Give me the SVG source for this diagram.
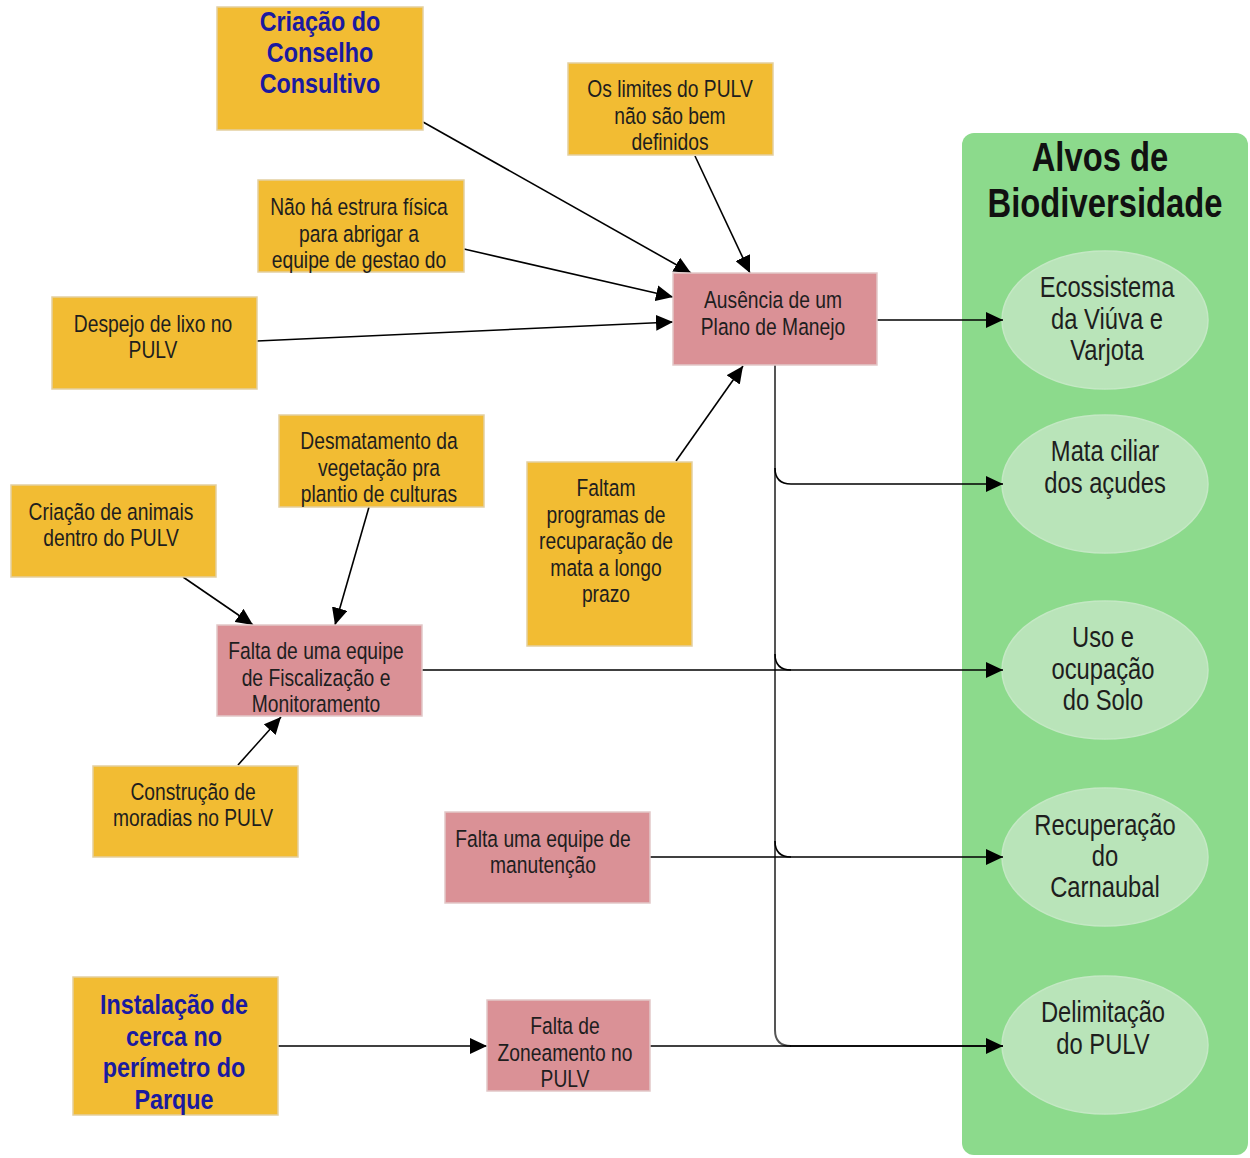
<svg xmlns="http://www.w3.org/2000/svg" width="1250" height="1158" viewBox="0 0 1250 1158">
  <defs>
    <marker id="arrow" markerUnits="userSpaceOnUse" markerWidth="18" markerHeight="16" refX="17" refY="8" orient="auto">
      <path d="M0,0 L17,8 L0,16 Z" fill="#000"/>
    </marker>
    <style>
      .cause { fill: #F2BC33; stroke: #E3CFA0; stroke-width: 1.5; }
      .issue { fill: #DA9196; stroke: #E2C8C8; stroke-width: 1.5; }
      .panel { fill: #8CDA8C; }
      .target { fill: #B9E4B9; stroke: #C4E8C4; stroke-width: 1.5; }
      .t { font-family: "Liberation Sans", Arial, sans-serif; font-size: 23.5px; fill: #1e1e1e; text-anchor: middle; }
      .te { font-family: "Liberation Sans", Arial, sans-serif; font-size: 29px; fill: #1e1e1e; text-anchor: middle; }
      .tb { font-family: "Liberation Sans", Arial, sans-serif; font-size: 28.5px; font-weight: bold; fill: #1A1AA0; text-anchor: middle; }
      .tt { font-family: "Liberation Sans", Arial, sans-serif; font-size: 40px; font-weight: bold; fill: #111; text-anchor: middle; }
      .link { fill: none; stroke: #000; stroke-width: 1.6; }
      .trunk { fill: none; stroke: #555; stroke-width: 2; }
    </style>
  </defs>

  <rect width="1250" height="1158" fill="#fff"/>

  <!-- Biodiversity targets panel -->
  <g id="alvos">
    <rect class="panel" x="962" y="133" width="286" height="1022" rx="12"/>
    <text class="tt" transform="translate(1100 0) scale(0.82 1)" x="0" y="171">Alvos de</text>
    <text class="tt" transform="translate(1105 0) scale(0.82 1)" x="0" y="217">Biodiversidade</text>
  </g>
  <g id="alvo-ecossistema">
    <ellipse class="target" cx="1105" cy="320" rx="103" ry="69"/>
    <text class="te" transform="translate(1107 0) scale(0.82 1)"><tspan x="0" y="297">Ecossistema</tspan><tspan x="0" y="329">da Viúva e</tspan><tspan x="0" y="360">Varjota</tspan></text>
  </g>
  <g id="alvo-mata">
    <ellipse class="target" cx="1105" cy="484" rx="103" ry="69"/>
    <text class="te" transform="translate(1105 0) scale(0.82 1)"><tspan x="0" y="461">Mata ciliar</tspan><tspan x="0" y="493">dos açudes</tspan></text>
  </g>
  <g id="alvo-solo">
    <ellipse class="target" cx="1105" cy="670" rx="103" ry="69"/>
    <text class="te" transform="translate(1103 0) scale(0.82 1)"><tspan x="0" y="647">Uso e</tspan><tspan x="0" y="679">ocupação</tspan><tspan x="0" y="710">do Solo</tspan></text>
  </g>
  <g id="alvo-carnaubal">
    <ellipse class="target" cx="1105" cy="857" rx="103" ry="69"/>
    <text class="te" transform="translate(1105 0) scale(0.82 1)"><tspan x="0" y="835">Recuperação</tspan><tspan x="0" y="866">do</tspan><tspan x="0" y="897">Carnaubal</tspan></text>
  </g>
  <g id="alvo-delimitacao">
    <ellipse class="target" cx="1105" cy="1045" rx="103" ry="69"/>
    <text class="te" transform="translate(1103 0) scale(0.82 1)"><tspan x="0" y="1022">Delimitação</tspan><tspan x="0" y="1054">do PULV</tspan></text>
  </g>

  <!-- Connectors -->
  <g id="connectors">
    <line class="link" x1="423" y1="122" x2="691" y2="273" marker-end="url(#arrow)"/>
    <line class="link" x1="464" y1="249" x2="673" y2="297" marker-end="url(#arrow)"/>
    <line class="link" x1="257" y1="341" x2="673" y2="322" marker-end="url(#arrow)"/>
    <line class="link" x1="695" y1="156" x2="750" y2="273" marker-end="url(#arrow)"/>
    <line class="link" x1="676" y1="461" x2="743" y2="366" marker-end="url(#arrow)"/>
    <line class="link" x1="877" y1="320" x2="1003" y2="320" marker-end="url(#arrow)"/>

    <path class="trunk" d="M775,365 V1030 Q775,1046 791,1046"/>
    <path class="link" d="M775,468 Q775,484 791,484 H1003" marker-end="url(#arrow)"/>
    <path class="link" d="M775,654 Q775,670 791,670"/>
    <path class="link" d="M775,841 Q775,857 791,857"/>
    <line class="link" x1="790" y1="1046" x2="1003" y2="1046" marker-end="url(#arrow)"/>

    <line class="link" x1="183" y1="577" x2="253" y2="625" marker-end="url(#arrow)"/>
    <line class="link" x1="369" y1="507" x2="335" y2="625" marker-end="url(#arrow)"/>
    <line class="link" x1="238" y1="765" x2="281" y2="717" marker-end="url(#arrow)"/>

    <line class="link" x1="422" y1="670" x2="1003" y2="670" marker-end="url(#arrow)"/>
    <line class="link" x1="650" y1="857" x2="1003" y2="857" marker-end="url(#arrow)"/>
    <line class="link" x1="278" y1="1046" x2="487" y2="1046" marker-end="url(#arrow)"/>
    <line class="link" x1="650" y1="1046" x2="1003" y2="1046"/>
  </g>

  <!-- Strategies and threats -->
  <g id="conselho">
    <rect class="cause" x="217" y="7" width="206" height="123"/>
    <text class="tb" transform="translate(320 0) scale(0.82 1)"><tspan x="0" y="31">Criação do</tspan><tspan x="0" y="62">Conselho</tspan><tspan x="0" y="93">Consultivo</tspan></text>
  </g>
  <g id="limites">
    <rect class="cause" x="568" y="63" width="205" height="92"/>
    <text class="t" transform="translate(670 0) scale(0.82 1)"><tspan x="0" y="97">Os limites do PULV</tspan><tspan x="0" y="124">não são bem</tspan><tspan x="0" y="150">definidos</tspan></text>
  </g>
  <g id="estrutura">
    <rect class="cause" x="258" y="180" width="206" height="92"/>
    <text class="t" transform="translate(359 0) scale(0.82 1)"><tspan x="0" y="215">Não há estrura física</tspan><tspan x="0" y="242">para abrigar a</tspan><tspan x="0" y="268">equipe de gestao do</tspan></text>
  </g>
  <g id="lixo">
    <rect class="cause" x="52" y="297" width="205" height="92"/>
    <text class="t" transform="translate(153 0) scale(0.82 1)"><tspan x="0" y="332">Despejo de lixo no</tspan><tspan x="0" y="358">PULV</tspan></text>
  </g>
  <g id="plano-manejo">
    <rect class="issue" x="673" y="273" width="204" height="92"/>
    <text class="t" transform="translate(773 0) scale(0.82 1)"><tspan x="0" y="308">Ausência de um</tspan><tspan x="0" y="335">Plano de Manejo</tspan></text>
  </g>
  <g id="desmatamento">
    <rect class="cause" x="279" y="415" width="205" height="92"/>
    <text class="t" transform="translate(379 0) scale(0.82 1)"><tspan x="0" y="449">Desmatamento da</tspan><tspan x="0" y="476">vegetação pra</tspan><tspan x="0" y="502">plantio de culturas</tspan></text>
  </g>
  <g id="animais">
    <rect class="cause" x="11" y="485" width="205" height="92"/>
    <text class="t" transform="translate(111 0) scale(0.82 1)"><tspan x="0" y="520">Criação de animais</tspan><tspan x="0" y="546">dentro do PULV</tspan></text>
  </g>
  <g id="programas">
    <rect class="cause" x="527" y="462" width="165" height="184"/>
    <text class="t" transform="translate(606 0) scale(0.82 1)"><tspan x="0" y="496">Faltam</tspan><tspan x="0" y="523">programas de</tspan><tspan x="0" y="549">recuparação de</tspan><tspan x="0" y="576">mata a longo</tspan><tspan x="0" y="602">prazo</tspan></text>
  </g>
  <g id="fiscalizacao">
    <rect class="issue" x="217" y="625" width="205" height="91"/>
    <text class="t" transform="translate(316 0) scale(0.82 1)"><tspan x="0" y="659">Falta de uma equipe</tspan><tspan x="0" y="686">de Fiscalização e</tspan><tspan x="0" y="712">Monitoramento</tspan></text>
  </g>
  <g id="moradias">
    <rect class="cause" x="93" y="766" width="205" height="91"/>
    <text class="t" transform="translate(193 0) scale(0.82 1)"><tspan x="0" y="800">Construção de</tspan><tspan x="0" y="826">moradias no PULV</tspan></text>
  </g>
  <g id="manutencao">
    <rect class="issue" x="445" y="812" width="205" height="91"/>
    <text class="t" transform="translate(543 0) scale(0.82 1)"><tspan x="0" y="847">Falta uma equipe de</tspan><tspan x="0" y="873">manutenção</tspan></text>
  </g>
  <g id="cerca">
    <rect class="cause" x="73" y="977" width="205" height="138"/>
    <text class="tb" transform="translate(174 0) scale(0.82 1)"><tspan x="0" y="1014">Instalação de</tspan><tspan x="0" y="1046">cerca no</tspan><tspan x="0" y="1077">perímetro do</tspan><tspan x="0" y="1109">Parque</tspan></text>
  </g>
  <g id="zoneamento">
    <rect class="issue" x="487" y="1000" width="163" height="91"/>
    <text class="t" transform="translate(565 0) scale(0.82 1)"><tspan x="0" y="1034">Falta de</tspan><tspan x="0" y="1061">Zoneamento no</tspan><tspan x="0" y="1087">PULV</tspan></text>
  </g>
</svg>
